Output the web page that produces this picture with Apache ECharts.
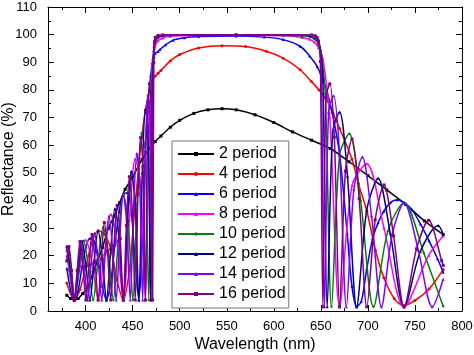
<!DOCTYPE html>
<html><head><meta charset="utf-8">
<script src="https://cdn.jsdelivr.net/npm/echarts@6/dist/echarts.min.js"></script>
<style>html,body{margin:0;padding:0;background:#fff}#c{width:474px;height:355px}</style>
</head><body><div id="c"></div>
<script>
// ---- data (wavelength nm / reflectance %) ----
const wl2 = [380,384,388,392,397,402,408,413,418,424,430,436,442,450,460,470,474,480,490,500,515,530,545,560,580,600,620,640,660,680,700,720,740,760,780];
const r2  = [5.7,4.5,4,4.5,6.3,8.7,13.9,18.5,23,29.8,34.1,39.1,44,48.5,54.9,59.8,61.3,63.3,66.5,69,71.5,72.8,73.2,72.8,71,68.2,64.8,61.8,58.8,54,49,43.8,38.6,32.6,27.7];

const wl4 = [380,388,394,400.3,406.8,413.3,419.9,426.7,433.3,440,446.5,452.7,458.4,463.5,467.8,471.2,474,477,480,490,500,520,545,570,592,610,628,640,648,656,663,670,683,690,699,708,717,728,738,750,765,780];
const r4  = [10.1,4,7.8,16.2,25,29,27.8,22.5,11.2,4,14.9,38.7,59,72.8,79.4,83.6,85,86,87,90.5,92.8,95.2,96,95.7,94,91.5,87.3,83,80,76.4,71.5,66,55,46,36,22,12,4.5,2,3.8,8,15];

const wl6 = [380,384,388,392,396.1,400.3,404.6,408.9,413.3,417.7,422.1,426.6,431.1,435.6,440,444.4,448.8,452.7,456.5,460.2,463.5,466.5,469.1,471,472.7,474,477,479,485,493,505,520,560,590,610,628,638,646,651,656,662,670,678,683,688,693,698.8,705,710.8,717,723.8,731,738.5,747,755.8,765,774,780];
const r6  = [15.4,7.6,4,7.3,16,23.1,26.3,25.3,18.4,9,4,10.3,24,35.9,42.2,42.8,34.8,17.7,4,23.9,57.6,76.3,85.2,89.8,91.8,93.3,93.9,94.6,96.3,98,98.9,99.3,99.5,99.1,98.2,95.8,92.3,88.5,84.5,80,72,56.4,28,9,1.5,3.5,15.2,26.2,31.9,36.1,39.2,40.3,39.2,36.6,31.5,25.4,18.9,14];

const wl8 = [380,382.3,388,394,400.3,406.8,413.3,419.9,426.7,433.3,440,446.5,452.7,458.4,463.5,467.8,471.2,473.3,474,477,482,490,510,560,610,630,638,643,646,647.5,652.1,659.5,669.9,683.1,698.8,717.1,738.5,764.6,780];
const r8  = [20,14.8,4,15.9,25.7,17.5,4,20.5,35,24.8,4,33.1,55,46.4,4,69.9,91.1,95.2,96.1,97.8,98.8,99.4,99.7,99.8,99.6,99,98.3,97.3,96.3,95.4,91.4,69.9,1.5,45.4,53.3,30,1.5,20.1,27.1];

const wl10 = [380,383.3,388,392.8,397.8,402.9,408,413.3,418.6,423.9,429.4,434.7,440,445.2,450.2,455,459.5,463.5,467.1,470,472.2,473.5,474,477,482,490,560,630,638,643,646,647,649.9,654.7,661.3,669.9,680.2,692.3,705.9,721.1,738.5,759.4,780];
const r10  = [22.8,14.7,4,14.7,25.4,16.4,4,18.4,30.3,21.8,4,25.4,42.2,32.1,4,41.6,64.4,57.6,4,78.2,94,96.8,97.5,98.8,99.5,99.8,99.9,99.6,99.2,98.4,97.6,96.8,94.3,78.6,1.5,56.4,64.1,39.9,1.5,28.8,39.2,21,1.7];

const wl12 = [380,384.2,388,392,396.1,400.3,404.6,408.9,413.3,417.7,422.1,426.7,431.1,435.6,440,444.4,448.5,452.7,456.5,460.2,463.5,466.5,469.1,471.2,472.7,473.7,474,477,482,490,560,630,640,644,646,648.7,652.1,656.7,662.6,669.9,678.3,688,698.8,710.8,723.8,738.5,755.8,774.6,780];
const r12  = [23.4,14.7,4,14.7,25.3,16.2,4,17.8,29,19.1,4,22.5,37,25.7,4,31.5,50.6,38.7,4,50,72.8,65.6,4,83.6,95.7,98,98.2,99.3,99.7,99.9,99.9,99.8,99.5,99,98.3,96,84.2,1.5,64.8,72,48.8,1.5,36.6,48,28,1.5,21.6,30.9,27.8];

const wl14 = [380,381.4,384.7,388,391.4,395,398.5,402.1,405.8,409.5,413.3,417.1,420.9,424.7,428.6,432.4,436.2,440,443.8,447.4,450.9,454.4,457.6,460.6,463.5,466.1,468.4,470.4,471.9,473,473.8,474,477,482,560,640,644,646,648,650.5,653.8,658.2,663.6,669.9,677.1,685.1,694.1,703.8,714.4,725.7,738.5,753.5,768.4,780];
const r14  = [21.8,23.4,14.7,4,14.7,25.2,16.1,4,17.2,28.1,18.4,4,21,34.3,23.1,4,26,42.2,31.1,4,37,57,45.1,4,57.6,78.2,72,4,87.3,96.8,98.2,98.7,99.5,99.8,99.9,99.8,99.4,98.7,96.9,87.9,1.5,71.9,77.9,56.4,1.5,44,55.7,34.5,1.5,27.6,39.2,22.1,1.5,11.5];

const wl16 = [380,382.2,385.1,388,391,394,397.2,400.3,403.5,406.8,410,413.3,416.6,419.9,423.2,426.7,430.1,433.5,436.8,440,443.3,446.5,449.6,452.7,455.6,458.4,461,463.5,465.8,467.8,469.7,471.2,472.4,473.3,474,477,482,560,640,644,646,647.5,649.5,652.1,655.4,659.5,664.3,669.9,676.1,683.1,690.7,698.8,707.7,717.1,727.3,738.5,751.7,764.6,778.4,780];
const r16  = [18.1,23.3,14.7,4,14.7,25.1,16,4,16.5,27.7,17.9,4,18.9,32,21.6,4,23.5,38.2,26.2,4,30.9,48.6,35.7,4,42.3,62.7,52.3,4,63.6,82.2,75.7,4,89.9,97.5,99,99.7,99.9,100,99.9,99.6,99,97.7,90.3,1.5,77.2,82.2,62.9,1.5,50.6,62.2,40.7,1.5,33,45.6,27.2,1.5,22.5,32.8,18.2,16.5];

const seriesNames = ['2 period','4 period','6 period','8 period','10 period','12 period','14 period','16 period'];
const xMajorTicks = [400,450,500,550,600,650,700,750,800];
const xMinorTicks = [375,425,475,525,575,625,675,725,775];

// ---- styling ----
const font = 'Liberation Sans, Arial, sans-serif';
const colors = ['#000000','#FF0000','#0000FF','#FF00FF','#008000','#000080','#8000FF','#800080'];
const symbols = ['rect','circle','triangle','triangle','diamond','triangle','triangle','rect'];
const wls = [wl2,wl4,wl6,wl8,wl10,wl12,wl14,wl16];
const rs  = [r2,r4,r6,r8,r10,r12,r14,r16];

const series = seriesNames.map((name,k)=>({
  name, type:'line', xAxisIndex:0, yAxisIndex:0,
  data: wls[k].map((x,i)=>[x, rs[k][i]]),
  smooth:0.3, symbol:symbols[k], symbolSize:3, showSymbol:true,
  lineStyle:{color:colors[k], width:1.5},
  itemStyle:{color:colors[k]},
  emphasis:{disabled:true}, z:2+k
}));

const axLine = {show:true, onZero:false, lineStyle:{color:'#000', width:1}};
const xBase = {type:'value', min:360, max:800, splitLine:{show:false}, axisLine:axLine};
const yBase = {type:'value', min:0, max:110, interval:10, splitLine:{show:false}, axisLine:axLine,
  axisTick:{show:true, inside:true, length:6, lineStyle:{color:'#000'}},
  minorTick:{show:true, splitNumber:2, length:3, lineStyle:{color:'#000'}}, minorSplitLine:{show:false}};

const option = {
  animation:false,
  backgroundColor:'#fff',
  grid:{left:48, right:12, top:7, bottom:44, containLabel:false, outerBoundsMode:'none'},
  legend:{orient:'vertical', left:172, top:141, padding:[5,3,6,5], itemGap:4, itemWidth:36, itemHeight:5,
    backgroundColor:'#fff', borderColor:'#777', borderWidth:1, borderRadius:0,
    textStyle:{fontSize:16, color:'#000', fontFamily:font}, data:seriesNames},
  xAxis:[
    {...xBase, position:'bottom',
      axisTick:{show:true, inside:true, length:6, customValues:xMajorTicks, lineStyle:{color:'#000'}},
      axisLabel:{show:true, customValues:xMajorTicks, fontSize:13, color:'#000', fontFamily:font, margin:9},
      name:'Wavelength (nm)', nameLocation:'middle', nameGap:26, nameMoveOverlap:false,
      nameTextStyle:{fontSize:16, color:'#000', fontFamily:font}},
    {...xBase, position:'bottom', axisLine:{show:false, onZero:false},
      axisTick:{show:true, inside:true, length:3, customValues:xMinorTicks, lineStyle:{color:'#000'}}, axisLabel:{show:false}},
    {...xBase, position:'top',
      axisTick:{show:true, inside:true, length:6, customValues:xMajorTicks, lineStyle:{color:'#000'}}, axisLabel:{show:false}},
    {...xBase, position:'top', axisLine:{show:false, onZero:false},
      axisTick:{show:true, inside:true, length:3, customValues:xMinorTicks, lineStyle:{color:'#000'}}, axisLabel:{show:false}}
  ],
  yAxis:[
    {...yBase, position:'left',
      axisLabel:{fontSize:13, color:'#000', fontFamily:font, margin:11},
      name:'Reflectance (%)', nameLocation:'middle', nameGap:31, nameMoveOverlap:false,
      nameTextStyle:{fontSize:16, color:'#000', fontFamily:font}},
    {...yBase, position:'right', axisLabel:{show:false}}
  ],
  series
};
const chart = echarts.init(document.getElementById('c'), null, {renderer:'canvas'});
chart.setOption(option);
</script>
</body></html>
